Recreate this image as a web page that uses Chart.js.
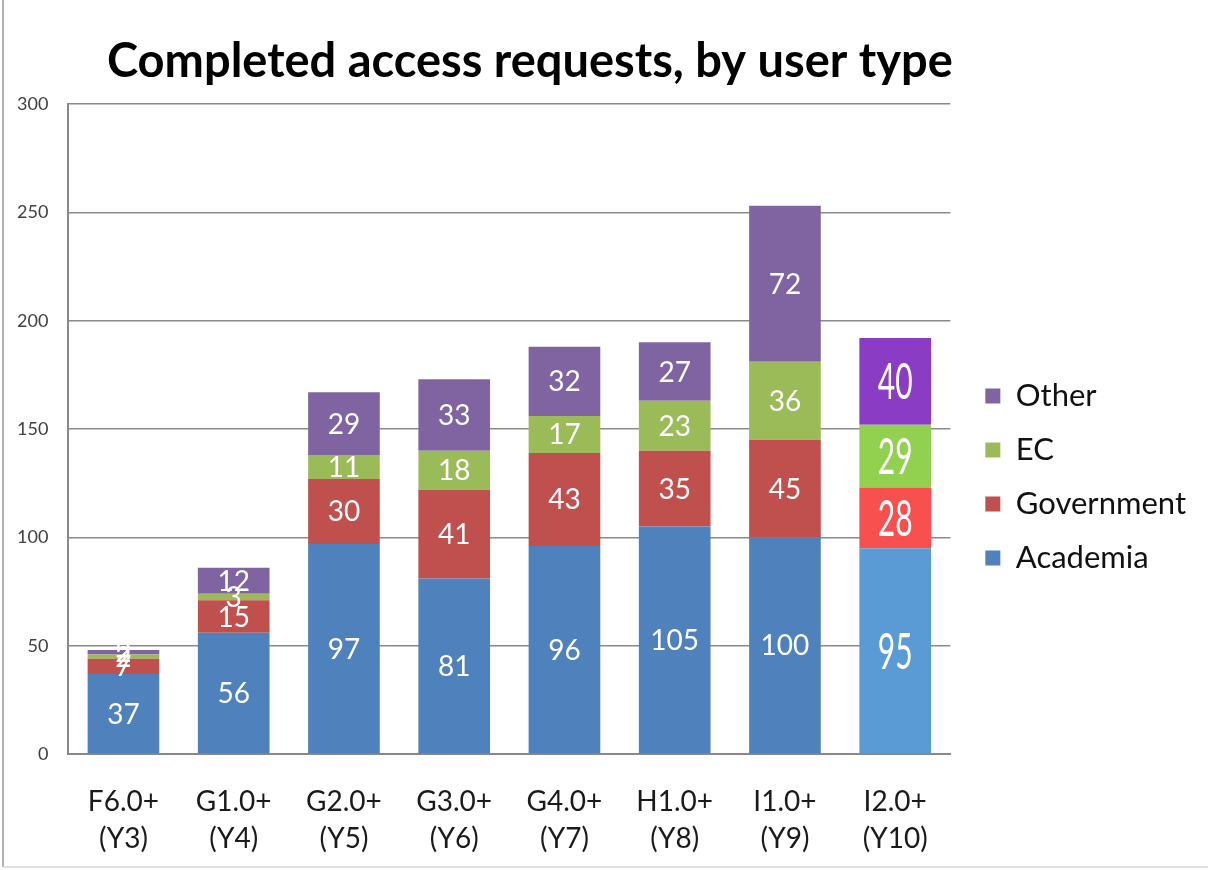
<!DOCTYPE html>
<html>
<head>
<meta charset="utf-8">
<script src="https://cdn.jsdelivr.net/npm/chart.js@4.4.1/dist/chart.umd.min.js"></script>
<style>
  html, body { margin: 0; padding: 0; background: #fff; }
  #wrap { width: 1208px; height: 870px; position: relative; }
</style>
</head>
<body>
<div id="wrap"><canvas id="chart"></canvas></div>
<script>
// --- data ---
const releases = ['F6.0+', 'G1.0+', 'G2.0+', 'G3.0+', 'G4.0+', 'H1.0+', 'I1.0+', 'I2.0+'];
const years = ['(Y3)', '(Y4)', '(Y5)', '(Y6)', '(Y7)', '(Y8)', '(Y9)', '(Y10)'];
const academia = [37, 56, 97, 81, 96, 105, 100, 95];
const government = [7, 15, 30, 41, 43, 35, 45, 28];
const ec = [2, 3, 11, 18, 17, 23, 36, 29];
const other = [2, 12, 29, 33, 32, 27, 72, 40];
const yTicks = [0, 50, 100, 150, 200, 250, 300];

const titleText = 'Completed access requests, by user type';
const FONT = 'Lato, "Open Sans", sans-serif';

// last bar (I2.0+) was pasted in with a brighter palette
function colours(base, lastOne) {
    return releases.map((_, i) => i === releases.length - 1 ? lastOne : base);
}

const valueLabels = {
    id: 'valueLabels',
    afterDatasetsDraw(chart) {
        const ctx = chart.ctx;
        chart.data.datasets.forEach((ds, i) => {
            const meta = chart.getDatasetMeta(i);
            meta.data.forEach((bar, j) => {
                const y = (bar.y + bar.base) / 2;
                ctx.save();
                ctx.fillStyle = '#ffffff';
                ctx.textAlign = 'center';
                ctx.textBaseline = 'middle';
                if (j === meta.data.length - 1) {
                    // condensed, bigger numbers on the last column
                    ctx.translate(bar.x, y + 2);
                    ctx.scale(0.6, 1);
                    ctx.font = '50px ' + FONT;
                    ctx.fillText(String(ds.data[j]), 0, 0);
                } else {
                    ctx.font = '28px ' + FONT;
                    ctx.fillText(String(ds.data[j]), bar.x, y + 1);
                }
                ctx.restore();
            });
        });
    }
};

// nudge the legend a bit right and up, like in the slide
const legendNudge = {
    id: 'legendNudge',
    afterLayout(chart) {
        const lg = chart.legend;
        if (!lg) return;
        lg.left += 12; lg.right += 12;
        lg.top -= 18; lg.bottom -= 18;
    }
};

const titleAndFrame = {
    id: 'titleAndFrame',
    afterDraw(chart) {
        const ctx = chart.ctx;
        ctx.save();
        ctx.font = 'bold 47px ' + FONT;
        ctx.fillStyle = '#000000';
        ctx.textAlign = 'left';
        ctx.textBaseline = 'middle';
        ctx.fillText(titleText, 107, 62);
        // thin page frame
        ctx.strokeStyle = '#b0b0b0';
        ctx.lineWidth = 2;
        ctx.beginPath();
        ctx.moveTo(3, 0);
        ctx.lineTo(3, 867);
        ctx.stroke();
        ctx.strokeStyle = '#e0e0e0';
        ctx.beginPath();
        ctx.moveTo(3, 867);
        ctx.lineTo(1208, 867);
        ctx.stroke();
        ctx.restore();
    }
};

const ctx = document.getElementById('chart').getContext('2d');
new Chart(ctx, {
    type: 'bar',
    data: {
        labels: releases.map((r, i) => [r, years[i]]),
        datasets: [
            { label: 'Academia', data: academia, backgroundColor: colours('#4F81BD', '#5B9BD5') },
            { label: 'Government', data: government, backgroundColor: colours('#C0504D', '#F8504F') },
            { label: 'EC', data: ec, backgroundColor: colours('#9BBB59', '#92D050') },
            { label: 'Other', data: other, backgroundColor: colours('#8064A2', '#8A3CC4') }
        ]
    },
    options: {
        responsive: true,
        maintainAspectRatio: false,
        animation: false,
        datasets: { bar: { categoryPercentage: 1, barPercentage: 0.65, borderWidth: 0 } },
        layout: { padding: { top: 104, left: -3, right: 24, bottom: -16 } },
        plugins: {
            title: { display: false },
            tooltip: { enabled: false },
            legend: {
                position: 'right',
                reverse: true,
                labels: {
                    boxWidth: 15,
                    boxHeight: 15,
                    padding: 23,
                    color: '#111111',
                    font: { family: FONT, size: 31 }
                }
            }
        },
        scales: {
            x: {
                stacked: true,
                grid: { display: false, drawTicks: false },
                border: { display: true, color: '#888888', width: 2 },
                ticks: {
                    color: '#1a1a1a',
                    padding: 29,
                    font: { family: FONT, size: 28, lineHeight: 1.32 }
                }
            },
            y: {
                stacked: true,
                min: 0,
                max: 300,
                afterBuildTicks: axis => { axis.ticks = yTicks.map(v => ({ value: v })); },
                grid: { color: '#8a8a8a', lineWidth: 1.5, drawTicks: false },
                border: { display: true, color: '#888888', width: 2 },
                ticks: {
                    color: '#404040',
                    padding: 20,
                    font: { family: FONT, size: 18 }
                }
            }
        }
    },
    plugins: [valueLabels, legendNudge, titleAndFrame]
});
</script>
</body>
</html>
